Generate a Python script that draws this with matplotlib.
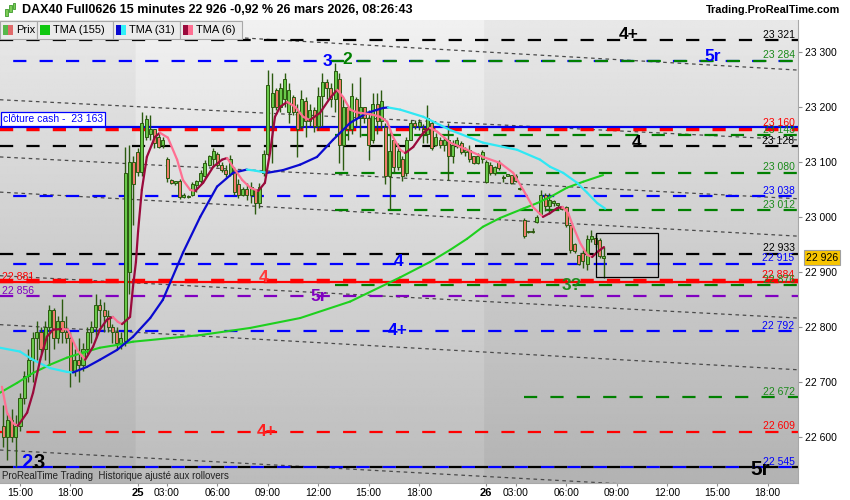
import numpy as np
import matplotlib.pyplot as plt
from matplotlib.patches import Rectangle
from matplotlib.collections import LineCollection

plt.rcParams['font.family'] = ['Liberation Sans', 'DejaVu Sans']
plt.rcParams['lines.scale_dashes'] = False

# 15 minute bars, bar 0 = 24 mars 14:00 ; 24 mars (0-31), 25 mars (32-114), 26 mars (115-143)
opens = [22620, 22600, 22630, 22600, 22620, 22670, 22710, 22740, 22780, 22790, 22760, 22800, 22830, 22780, 22810, 22790,
         22780, 22720, 22740, 22730, 22760, 22790, 22800, 22840, 22830, 22820, 22800, 22790, 22770, 22775, 22900, 23100,
         23118, 23082, 23145, 23150, 23160, 23145, 23130, 23105, 23067, 23062, 23065, 23036, 23038, 23040, 23058, 23065,
         23075, 23095, 23105, 23115, 23095, 23085, 23078, 23085, 23060, 23040, 23050, 23040, 23050, 23025, 23080, 23115,
         23200, 23231, 23200, 23215, 23190, 23218, 23190, 23165, 23210, 23175, 23195, 23165, 23220, 23245, 23235, 23215,
         23250, 23130, 23200, 23160, 23215, 23180, 23200, 23180, 23140, 23205, 23175, 23164, 23075, 23140, 23090, 23105,
         23080, 23140, 23170, 23165, 23160, 23150, 23171, 23130, 23140, 23130, 23140, 23110, 23130, 23135, 23118, 23122,
         23110, 23098, 23105,
         23064, 23095, 23080, 23100, 23070, 23075, 23076, 23074, 23052, 22995, 22972, 22975, 22990, 23005, 23040, 23020,
         23025, 23022, 23018, 23018, 22985, 22950, 22930, 22935, 22915, 22960, 22962, 22958, 22926]
highs = [22658, 22643, 22650, 22640, 22680, 22720, 22760, 22790, 22810, 22800, 22810, 22840, 22835, 22820, 22850, 22820,
         22790, 22760, 22780, 22770, 22800, 22810, 22860, 22850, 22845, 22830, 22805, 22800, 22790, 23127, 23130, 23110,
         23125, 23190, 23185, 23185, 23160, 23150, 23145, 23109, 23068, 23065, 23068, 23044, 23040, 23064, 23067, 23085,
         23104, 23113, 23125, 23118, 23100, 23095, 23113, 23090, 23068, 23055, 23062, 23064, 23050, 23062, 23122, 23267,
         23262, 23235, 23244, 23262, 23244, 23222, 23205, 23231, 23218, 23205, 23200, 23236, 23262, 23250, 23244, 23280,
         23262, 23218, 23200, 23244, 23218, 23255, 23200, 23195, 23225, 23225, 23231, 23170, 23160, 23140, 23135, 23110,
         23145, 23176, 23176, 23178, 23168, 23204, 23175, 23153, 23145, 23145, 23171, 23140, 23145, 23138, 23127, 23130,
         23110, 23116, 23122,
         23104, 23100, 23092, 23104, 23076, 23078, 23076, 23078, 23054, 22998, 22975, 22980, 23004, 23049, 23044, 23044,
         23031, 23025, 23020, 23020, 22985, 22953, 22931, 22940, 22967, 22976, 22968, 22962, 22945]
lows = [22582, 22558, 22590, 22545, 22610, 22660, 22700, 22700, 22740, 22750, 22740, 22730, 22760, 22770, 22770, 22770,
        22690, 22710, 22700, 22720, 22750, 22770, 22780, 22800, 22790, 22790, 22770, 22760, 22760, 22765, 22860, 22985,
        23075, 23075, 23140, 23140, 23125, 23125, 23125, 23064, 23060, 23058, 23032, 23034, 23034, 23038, 23045, 23062,
        23070, 23092, 23090, 23090, 23082, 23072, 23075, 23040, 23035, 23038, 23030, 23025, 23005, 23016, 23075, 23110,
        23098, 23195, 23190, 23200, 23170, 23185, 23109, 23160, 23145, 23165, 23155, 23158, 23165, 23215, 23200, 23190,
        23098, 23085, 23140, 23150, 23165, 23145, 23170, 23104, 23135, 23150, 23160, 23060, 23013, 23080, 23085, 23065,
        23075, 23140, 23160, 23158, 23135, 23135, 23122, 23128, 23125, 23120, 23067, 23098, 23125, 23115, 23110, 23100,
        23096, 23096, 23098,
        23062, 23076, 23076, 23085, 23064, 23074, 23060, 23064, 23048, 22962, 22970, 22971, 22989, 23013, 23010, 23005,
        23020, 23015, 23013, 22982, 22935, 22935, 22913, 22907, 22904, 22955, 22945, 22925, 22889]
closes = [22600, 22630, 22600, 22620, 22670, 22710, 22740, 22780, 22790, 22760, 22800, 22830, 22780, 22810, 22790, 22780,
          22720, 22740, 22730, 22760, 22790, 22800, 22840, 22830, 22820, 22800, 22790, 22770, 22780, 23080, 23100, 23060,
          23082, 23170, 23178, 23160, 23135, 23127, 23140, 23070, 23062, 23063, 23036, 23040, 23036, 23060, 23065, 23080,
          23098, 23110, 23120, 23095, 23085, 23078, 23105, 23045, 23040, 23050, 23040, 23055, 23025, 23055, 23115, 23240,
          23225, 23200, 23235, 23250, 23230, 23190, 23160, 23215, 23175, 23195, 23165, 23220, 23245, 23235, 23215, 23265,
          23130, 23200, 23160, 23220, 23180, 23200, 23180, 23130, 23205, 23175, 23210, 23075, 23120, 23090, 23120, 23075,
          23140, 23170, 23165, 23172, 23150, 23180, 23125, 23145, 23130, 23140, 23110, 23130, 23140, 23118, 23122, 23105,
          23098, 23110, 23118,
          23100, 23080, 23090, 23088, 23072, 23076, 23062, 23066, 23050, 22965, 22973, 22972, 23000, 23040, 23020, 23030,
          23028, 23022, 23014, 22985, 22940, 22938, 22915, 22920, 22960, 22965, 22950, 22928, 22926]

# x axis: bar index of each label
tick_pos = [4, 16, 32, 39, 51, 63, 75, 87, 99, 115, 122, 134, 146, 158, 170, 182]
tick_labels = ['15:00', '18:00', '25', '03:00', '06:00', '09:00', '12:00', '15:00', '18:00',
               '26', '03:00', '06:00', '09:00', '12:00', '15:00', '18:00']
day_labels = ['25', '26']
session25 = (31.5, 114.5)
price_ticks = [22600, 22700, 22800, 22900, 23000, 23100, 23200, 23300]
last_price = 22926

# moving averages (bar index, price)
tma6_x = [-0.3, 0.9, 2.3, 3.5, 5.7, 7.1, 8.8, 10.4, 11.9, 14.2, 15.4, 17.6, 19.5, 21.4, 23.0, 24.7, 26.1, 27.3,
          28.3, 30.2, 30.9, 31.6, 32.1, 33.0, 34.2, 36.1, 37.3, 39.2, 41.4, 42.8, 44.5, 45.7, 47.6, 50.0, 52.1,
          53.3, 54.7, 56.9, 58.8, 60.7, 62.3, 63.5, 64.7, 65.9, 67.6, 69.5, 71.4, 73.0, 75.4, 77.8, 79.5, 80.9,
          82.6, 84.2, 86.1, 87.8, 89.7, 91.4, 92.8, 94.5, 95.7, 97.6, 100.0, 101.6, 103.3, 106.4, 110.4, 114.2,
          118.3, 121.4, 123.8, 126.1, 128.5, 130.2, 131.9, 133.1, 134.5, 135.7, 137.3, 139.0, 140.2, 141.4, 143.0]
tma6_y = [22691, 22644, 22625, 22620, 22644, 22680, 22740, 22782, 22795, 22796, 22795, 22758, 22740, 22764, 22795,
          22813, 22818, 22809, 22805, 22818, 22873, 22918, 22973, 23049, 23109, 23145, 23153, 23144, 23104, 23067,
          23049, 23047, 23062, 23091, 23104, 23107, 23091, 23067, 23053, 23047, 23062, 23116, 23182, 23200, 23209,
          23200, 23182, 23176, 23189, 23216, 23231, 23218, 23195, 23190, 23188, 23186, 23182, 23173, 23145, 23122,
          23116, 23127, 23153, 23162, 23155, 23135, 23122, 23109, 23098, 23080, 23049, 23018, 23000, 23007, 23016,
          23018, 23007, 22982, 22953, 22931, 22927, 22936, 22945]
tma31_x = [-0.8, 4.0, 7.1, 11.1, 15.2, 16.6, 19.9, 23.0, 27.1, 30.9, 35.0, 38.0, 42.8, 46.9, 50.9, 54.7, 58.0, 60.0,
           62.8, 66.6, 70.7, 74.7, 78.5, 82.6, 86.6, 90.4, 91.6, 94.5, 100.0, 106.4, 114.2, 122.3, 127.8, 130.2,
           133.3, 136.6, 139.0, 141.4, 143.3]
tma31_y = [22762, 22755, 22740, 22725, 22718, 22717, 22727, 22740, 22758, 22782, 22816, 22849, 22935, 23000, 23055,
           23080, 23086, 23084, 23080, 23085, 23095, 23109, 23140, 23171, 23189, 23198, 23199, 23195, 23182, 23158,
           23135, 23122, 23104, 23091, 23080, 23062, 23044, 23025, 23015]
tma155_x = [-0.8, 3.3, 7.1, 11.1, 15.2, 19.0, 23.0, 27.1, 30.9, 35.0, 46.9, 58.8, 70.7, 82.6, 94.5, 101.6, 106.4,
            110.4, 114.2, 118.3, 123.8, 127.1, 130.2, 134.2, 138.1, 142.8]
tma155_y = [22680, 22698, 22716, 22731, 22744, 22753, 22762, 22767, 22773, 22776, 22785, 22798, 22816, 22846, 22890,
            22918, 22940, 22960, 22982, 22998, 23015, 23025, 23036, 23053, 23064, 23076]

# horizontal levels
black_levels = [23321, 23128, 22933, 22545]
blue_levels = [23284, 23038, 22915, 22792, 22545]
green_levels = [23284, 23148, 23080, 23012, 22876, 22672]
green_start = [78, 79, 79, 79, 79, 124]
red_levels = [23160, 22609]
red_main = 22884
red_left = 22881
purple_level = 22856
cash_close = 23163

# sloping dotted channel lines (start / end price)
trend_x = [-0.8, 189.0]
trend_start = [23351, 23213, 23109, 23045, 22893, 22804, 22576]
trend_end = [23267, 23140, 23033, 22965, 22816, 22722, 22497]

# zone box (bar index, price)
box_x = [141.2, 155.9]
box_y = [22891, 22971]

# wave labels: text, bar index, price, colour
wave_labels = [('4+', 148.8, 23331, 'black'), ('5r', 169.0, 23291, '#0000ff'), ('3', 77.1, 23282, '#0000ff'),
               ('2', 81.9, 23287, '#008000'), ('4', 150.7, 23135, 'black'), ('4', 94.0, 22918, '#0000ff'),
               ('4', 61.9, 22889, '#ff3b3b'), ('3?', 135.4, 22876, '#1e8c1e'), ('5r', 75.0, 22855, '#8000c0'),
               ('4+', 93.8, 22793, '#0000ff'), ('4+', 62.8, 22609, '#ff2020')]

series_names = ['Prix', 'TMA (155)', 'TMA (31)', 'TMA (6)']


def fmt(p):
    return f'{p:,}'.replace(',', ' ')


W, H = 850, 500
fig = plt.figure(figsize=(8.5, 5), dpi=100)
fig.patch.set_facecolor('white')
ax = fig.add_axes([0, 17 / H, 798 / W, 463 / H])
xmin, xmax = -0.76, 189.2
ymin, ymax = 22516, 23358
ax.set_xlim(xmin, xmax)
ax.set_ylim(ymin, ymax)

# background gradient, lighter for the 25 mars session
gx = np.linspace(xmin, xmax, 900)
shade = np.where((gx > session25[0]) & (gx < session25[1]), 0.035, 0.0)
grad = np.linspace(0.91, 0.70, 300)[:, None] + shade[None, :]
ax.imshow(np.clip(grad, 0, 1), cmap='gray', vmin=0, vmax=1, extent=[xmin, xmax, ymin, ymax],
          aspect='auto', origin='upper', zorder=0, interpolation='bilinear')

# dotted sloping lines
for a, b in zip(trend_start, trend_end):
    ax.plot(trend_x, [a, b], color='#4a4a4a', lw=0.9, dashes=(2.6, 2.6), zorder=1)

DASH = (9.5, 9.5)
for p in black_levels:
    ax.plot([xmin, xmax], [p, p], color='black', lw=1.6, dashes=DASH, zorder=2)
for p in blue_levels:
    ax.plot([xmin, xmax], [p, p], color='#0000ff', lw=1.6, linestyle=(9.5, DASH), zorder=2)
for p, s in zip(green_levels, green_start):
    ax.plot([s, xmax], [p, p], color='#008000', lw=1.6, dashes=DASH, zorder=2)
ax.plot([xmin, xmax], [red_levels[0]] * 2, color='#ff0000', lw=3.2, dashes=DASH, zorder=2)
ax.plot([xmin, xmax], [red_levels[1]] * 2, color='#ff0000', lw=1.6, dashes=DASH, zorder=2)
ax.plot([xmin, xmax], [red_left] * 2, color='#ff0000', lw=1.6, zorder=2)
ax.plot([xmin, xmax], [red_main] * 2, color='#ff0000', lw=3.2, dashes=DASH, zorder=2)
ax.plot([xmin, xmax], [purple_level] * 2, color='#8000c0', lw=1.6, dashes=DASH, zorder=2)
ax.plot([xmin, xmax], [cash_close] * 2, color='#0000ee', lw=1.6, zorder=2.5)

# candles
o = np.array(opens)
c = np.array(closes)
hi = np.array(highs)
lo = np.array(lows)
idx = np.arange(len(o))
wick = '#2b5a10'
ax.vlines(idx, lo, hi, color=wick, lw=1.0, zorder=3)
body_col = np.where(c >= o, '#69c94a', '#ef7b6b')
ax.bar(idx, np.maximum(np.abs(c - o), 2.5), bottom=np.minimum(o, c), width=0.72,
       color=body_col, edgecolor=wick, linewidth=0.7, zorder=4)


def ma_line(xs, ys, up, down, lw):
    pts = np.column_stack([xs, ys])
    segs = np.stack([pts[:-1], pts[1:]], axis=1)
    cols = [up if b >= a else down for a, b in zip(ys[:-1], ys[1:])]
    ax.add_collection(LineCollection(segs, colors=cols, linewidths=lw, zorder=5, capstyle='round'))


ma_line(tma155_x, tma155_y, '#1ed01e', '#1ed01e', 1.5)
ma_line(tma31_x, tma31_y, '#0a0ad0', '#30e8f4', 1.6)
ma_line(tma6_x, tma6_y, '#9a0a3c', '#ff6f92', 1.6)

ax.add_patch(Rectangle((box_x[0], box_y[0]), box_x[1] - box_x[0], box_y[1] - box_y[0],
                       fill=False, edgecolor='black', lw=0.9, zorder=6))

# level price labels
right_labels = [(black_levels[0], 'black'), (green_levels[0], '#1a8a1a'), (green_levels[1], '#1a8a1a'),
                (red_levels[0], '#ff0000'), (black_levels[1], 'black'), (green_levels[2], '#1a8a1a'),
                (blue_levels[1], '#0000ff'), (green_levels[3], '#1a8a1a'), (black_levels[2], 'black'),
                (blue_levels[2], '#0000ff'), (red_main, '#ff0000'), (green_levels[4], '#1a8a1a'),
                (blue_levels[3], '#0000ff'), (green_levels[5], '#1a8a1a'), (red_levels[1], '#ff0000'),
                (blue_levels[4], '#0000ff')]
for p, col in right_labels:
    ax.annotate(fmt(p), (1, p), xycoords=('axes fraction', 'data'), xytext=(-2.5, 0.3),
                textcoords='offset points', ha='right', va='bottom', color=col, fontsize=7.5, zorder=7)
for p, col in [(red_left, '#ff0000'), (purple_level, '#8000c0')]:
    ax.annotate(fmt(p), (0, p), xycoords=('axes fraction', 'data'), xytext=(1.5, 0.3),
                textcoords='offset points', ha='left', va='bottom', color=col, fontsize=7.5, zorder=7)

ax.annotate('clôture cash -  ' + fmt(cash_close), (0, cash_close), xycoords=('axes fraction', 'data'),
            xytext=(2, 2.2), textcoords='offset points', ha='left', va='bottom', color='#0000ff', fontsize=7.5,
            bbox=dict(boxstyle='square,pad=0.2', fc='white', ec='#0000ff', lw=0.9), zorder=8)

for t, xi, p, col in wave_labels:
    ax.text(xi, p, t, color=col, fontsize=12.5, fontweight='bold', ha='center', va='center', zorder=7)
ax.text(5.6, 22553, '2', color='#0000ff', fontsize=14.5, fontweight='bold', ha='center', va='center', zorder=7)
ax.text(8.6, 22553, '3', color='black', fontsize=14.5, fontweight='bold', ha='center', va='center', zorder=7)
ax.text(180.2, 22541, '5r', color='black', fontsize=15, fontweight='bold', ha='center', va='center', zorder=7)

ax.text(0.003, 0.016, 'ProRealTime Trading  Historique ajusté aux rollovers', transform=ax.transAxes,
        fontsize=7, color='#222222', ha='left', va='center', zorder=7)

# axes
for s in ['top', 'left']:
    ax.spines[s].set_visible(False)
for s in ['right', 'bottom']:
    ax.spines[s].set_color('#a8a8a8')
    ax.spines[s].set_linewidth(0.8)
ax.yaxis.tick_right()
ax.set_yticks(price_ticks)
ax.set_yticklabels([fmt(p) for p in price_ticks])
ax.tick_params(axis='y', length=3, width=0.8, color='#909090', pad=2, labelsize=7.5)
ax.set_xticks(tick_pos)
ax.set_xticklabels(tick_labels)
ax.tick_params(axis='x', length=2, width=0.8, color='#909090', pad=1.5, labelsize=7.5)
for lab in ax.get_xticklabels():
    if lab.get_text() in day_labels:
        lab.set_fontweight('bold')
        lab.set_fontsize(8)

ax.annotate(fmt(last_price), (1, last_price), xycoords=('axes fraction', 'data'), xytext=(5.5, 0),
            textcoords='offset points', ha='left', va='center', fontsize=7.5, color='black',
            bbox=dict(boxstyle='square,pad=0.2', fc='#f7c400', ec='#a0a0a0', lw=0.8), annotation_clip=False)


# header and legend tabs (pixel layout helpers)
def fx(x):
    return x / W


def fy(y):
    return 1 - y / H


fig.text(fx(22), fy(10), 'DAX40 Full0626 15 minutes ' + fmt(last_price) + ' -0,92 % 26 mars 2026, 08:26:43',
         fontsize=9, fontweight='bold', va='center', ha='left')
fig.text(fx(840), fy(10), 'Trading.ProRealTime.com', fontsize=7.8, fontweight='bold', va='center', ha='right')
for k, (bx, by0, by1, col) in enumerate([(5, 9, 16, '#3c9a2c'), (9, 5, 12, '#3c9a2c'), (13, 3, 9, '#3c9a2c')]):
    fig.add_artist(Rectangle((fx(bx), fy(by1)), 2.5 / W, (by1 - by0) / H, transform=fig.transFigure,
                             fc='#7ccc55', ec=col, lw=0.6))

tab_edges = [0, 37, 113, 180, 242]
tab_colors = [['#56b84a', '#e06a6a'], ['#10c810'], ['#0a0ad0', '#30f0f8'], ['#9a0a3c', '#ff6f92']]
for k, name in enumerate(series_names):
    x0, x1 = tab_edges[k], tab_edges[k + 1]
    fig.add_artist(Rectangle((fx(x0), fy(39)), (x1 - x0) / W, 18 / H, transform=fig.transFigure,
                             fc='#ebebeb', ec='#a8a8a8', lw=0.8, zorder=10))
    cols = tab_colors[k]
    sw = 10 / len(cols)
    for j, col in enumerate(cols):
        fig.add_artist(Rectangle((fx(x0 + 3 + j * sw), fy(35)), sw / W, 10 / H, transform=fig.transFigure,
                                 fc=col, ec='none', zorder=11))
    fig.text(fx(x0 + 16), fy(30), name, fontsize=8, va='center', ha='left', zorder=12)

fig.savefig('out.png', dpi=100)
